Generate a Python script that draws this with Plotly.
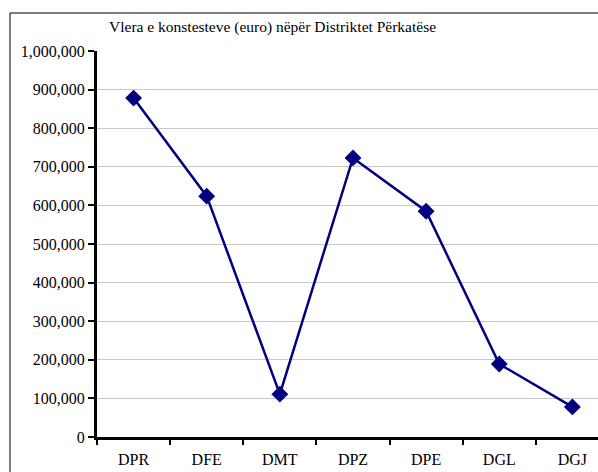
import plotly.graph_objects as go

# Distriktet dhe vlerat (euro)
distriktet = ['DPR', 'DFE', 'DMT', 'DPZ', 'DPE', 'DGL', 'DGJ']
vlerat = [878000, 624000, 111000, 723000, 585000, 189000, 78000]
y_ticks = list(range(0, 1000001, 100000))

font_serif = 'Liberation Serif, Times New Roman, serif'

W, H = 598, 472
L, T, B = 97, 51, 35
pw, ph = W - L, H - T - B

# korniza e grafikut (vetëm majtas dhe lart duken në foto)
bx = (10 - L) / pw
by = (T + ph - 13) / ph
border = dict(color='black', width=1)

fig = go.Figure()
fig.add_trace(go.Scatter(
    x=distriktet,
    y=vlerat,
    mode='lines+markers',
    line=dict(color='#000080', width=2.5),
    marker=dict(symbol='diamond', size=13, color='#000080'),
    showlegend=False,
))

fig.update_layout(
    width=W,
    height=H,
    margin=dict(l=L, r=0, t=T, b=B),
    paper_bgcolor='white',
    plot_bgcolor='white',
    font=dict(family=font_serif, size=16, color='black'),
    xaxis=dict(
        type='category',
        range=[-0.5, 6.35],
        showgrid=False,
        showline=True,
        linecolor='black',
        linewidth=3,
        ticks='outside',
        tickson='boundaries',
        ticklen=5,
        tickwidth=2,
        tickcolor='black',
        tickfont=dict(family=font_serif, size=16),
        ticklabelstandoff=6,
    ),
    yaxis=dict(
        range=[0, 1000000],
        tickvals=y_ticks,
        tickformat=',d',
        showgrid=True,
        gridcolor='#c8c8c8',
        gridwidth=1,
        showline=True,
        linecolor='black',
        linewidth=3,
        ticks='outside',
        ticklen=6,
        tickwidth=2,
        tickcolor='black',
        tickfont=dict(family=font_serif, size=16),
        zeroline=False,
    ),
    annotations=[dict(
        text='Vlera e konstesteve (euro) nëpër Distriktet Përkatëse',
        xref='paper', yref='paper',
        x=(272 - L) / pw, y=(T + ph - 27) / ph,
        xanchor='center', yanchor='middle',
        showarrow=False,
        font=dict(family=font_serif, size=15.5),
    )],
    shapes=[
        dict(type='line', xref='paper', yref='paper',
             x0=bx, x1=bx, y0=-0.2, y1=by, line=border),
        dict(type='line', xref='paper', yref='paper',
             x0=bx, x1=1.05, y0=by, y1=by, line=border),
    ],
)

# pa hapësirë rreth figurës në faqe, pa modebar
fig.write_html(
    'out.html',
    config={'displayModeBar': False},
    post_script=(
        "document.body.style.margin='0';"
        "document.body.style.overflow='hidden';"
        "document.documentElement.style.overflow='hidden';"
    ),
)
